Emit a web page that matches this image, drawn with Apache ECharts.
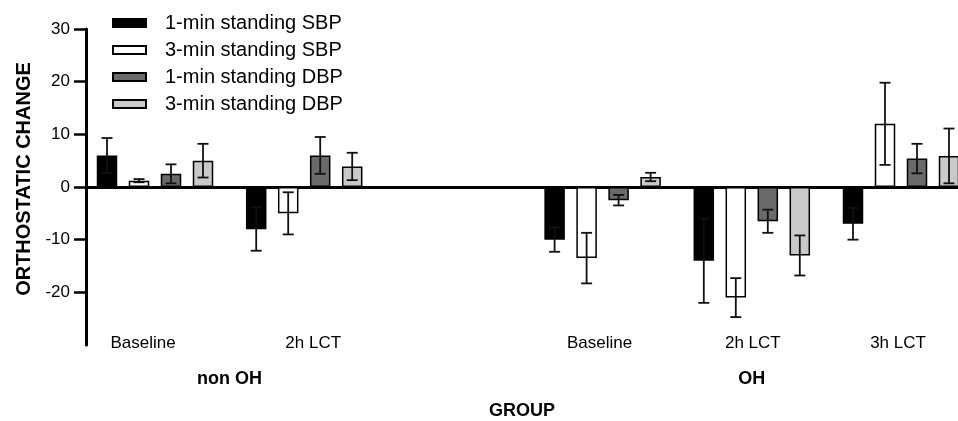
<!DOCTYPE html>
<html><head><meta charset="utf-8">
<script src="https://cdn.jsdelivr.net/npm/echarts@6/dist/echarts.min.js"></script>
<style>html,body{margin:0;padding:0;background:#fff}#c{width:958px;height:421px}</style>
</head><body><div id="c"></div>
<script>
// ---- data ----
const categories = ['Baseline', '2h LCT', '', 'Baseline', '2h LCT', '3h LCT'];
const groupNames = ['non OH', 'OH'];
const groupFirst = [0, 3];
const groupLast = [1, 5];
const yTicks = [-20, -10, 0, 10, 20, 30];
const seriesNames = ['1-min standing SBP', '3-min standing SBP', '1-min standing DBP', '3-min standing DBP'];
const sbp1 = [6, -8, null, -10, -14, -7];
const sbp1Err = [3.3, 4.1, null, 2.3, 8, 3];
const sbp3 = [1.2, -5, null, -13.5, -21, 12];
const sbp3Err = [0.3, 4, null, 4.8, 3.7, 7.8];
const dbp1 = [2.5, 6, null, -2.5, -6.5, 5.4];
const dbp1Err = [1.8, 3.5, null, 1, 2.2, 2.8];
const dbp3 = [5, 3.9, null, 1.9, -13, 5.9];
const dbp3Err = [3.2, 2.6, null, 0.8, 3.8, 5.2];

// ---- style ----
const FONT = 'Liberation Sans, Arial, Helvetica, sans-serif';
const fills = ['#000000', '#ffffff', '#6a6a6a', '#c9c9c9'];
const BAR_W = 20.5, BAR_GAP = 11.5;
// small horizontal nudges of the category labels (px, negative = left), as in the source layout
const labelNudge = [-12, 9, 0, -3, 1, -3];
const values = [sbp1, sbp3, dbp1, dbp3];
const errors = [sbp1Err, sbp3Err, dbp1Err, dbp3Err];

const halfSlots = [];
for (let j = 0; j < 2 * categories.length + 1; j++) halfSlots.push('');
groupNames.forEach((g, i) => { halfSlots[groupFirst[i] + groupLast[i] + 1] = g; });

const catData = categories.map((c, k) => {
  const n = labelNudge[k];
  return { value: c, textStyle: { padding: n < 0 ? [0, -2 * n, 0, 0] : [0, 0, 0, 2 * n] } };
});

const series = [];
values.forEach((v, i) => {
  series.push({
    type: 'bar', name: seriesNames[i], xAxisIndex: 0, yAxisIndex: 0,
    data: v, barWidth: BAR_W, barGap: (BAR_GAP / BAR_W * 100) + '%',
    itemStyle: { color: fills[i], borderColor: '#000', borderWidth: 1.5 },
    z: 2, animation: false
  });
});
values.forEach((v, i) => {
  const data = [];
  v.forEach((val, k) => { if (val != null) data.push([k, val, errors[i][k]]); });
  series.push({
    type: 'custom', xAxisIndex: 0, yAxisIndex: 0, z: 4, silent: true,
    encode: { x: 0, y: 1 }, data: data,
    renderItem: (params, api) => {
      const k = api.value(0), m = api.value(1), e = api.value(2);
      const total = 4 * BAR_W + 3 * BAR_GAP;
      const dx = -total / 2 + BAR_W / 2 + i * (BAR_W + BAR_GAP);
      const top = api.coord([k, m + e]);
      const bot = api.coord([k, m - e]);
      const x = top[0] + dx, cw = 5.5;
      const st = { stroke: '#111', lineWidth: 1.8 };
      return { type: 'group', children: [
        { type: 'line', shape: { x1: x, y1: top[1], x2: x, y2: bot[1] }, style: st },
        { type: 'line', shape: { x1: x - cw, y1: top[1], x2: x + cw, y2: top[1] }, style: st },
        { type: 'line', shape: { x1: x - cw, y1: bot[1], x2: x + cw, y2: bot[1] }, style: st }
      ]};
    }
  });
});

const chart = echarts.init(document.getElementById('c'));
chart.setOption({
  animation: false,
  backgroundColor: '#fff',
  textStyle: { fontFamily: FONT },
  legend: {
    data: seriesNames, orient: 'vertical', left: 112, top: 13, padding: 0,
    icon: 'rect', itemWidth: 33, itemHeight: 8, itemGap: 7, selectedMode: false,
    textStyle: { fontFamily: FONT, fontSize: 20, color: '#000', padding: [0, 0, 0, 14] }
  },
  grid: [
    { left: 80.4, width: 895.2, top: 29, height: 316, outerBoundsMode: 'none', containLabel: false },
    { left: 86, right: 0, top: 29, height: 316, outerBoundsMode: 'none', containLabel: false }
  ],
  xAxis: [
    { type: 'category', gridIndex: 0, data: catData, boundaryGap: true, position: 'bottom', offset: -14,
      axisLine: { show: false, onZero: false }, axisTick: { show: false }, splitLine: { show: false },
      axisLabel: { interval: 0, margin: 4, fontFamily: FONT, fontSize: 17, color: '#000' } },
    { type: 'category', gridIndex: 0, data: halfSlots, boundaryGap: false, position: 'bottom', offset: -14,
      axisLine: { show: false, onZero: false }, axisTick: { show: false }, splitLine: { show: false },
      axisLabel: { interval: 0, margin: 39, fontFamily: FONT, fontSize: 18, fontWeight: 'bold', color: '#000' } },
    { type: 'value', gridIndex: 1, min: 0, max: 1,
      axisLine: { show: true, onZero: true, lineStyle: { color: '#000', width: 3 } },
      axisTick: { show: false }, axisLabel: { show: false }, splitLine: { show: false },
      name: 'GROUP', nameLocation: 'middle', nameGap: 57,
      nameTextStyle: { fontFamily: FONT, fontSize: 18, fontWeight: 'bold', color: '#000' } }
  ],
  yAxis: [
    { type: 'value', gridIndex: 0, min: -30, max: 30, show: false, splitLine: { show: false } },
    { type: 'value', gridIndex: 1, min: -30, max: 30, interval: 10,
      axisLine: { show: true, lineStyle: { color: '#000', width: 3 } },
      axisTick: { show: true, length: 12, customValues: yTicks, lineStyle: { color: '#000', width: 2.5 } },
      axisLabel: { customValues: yTicks, margin: 16, fontFamily: FONT, fontSize: 17, color: '#000',
        formatter: v => (v === -30 ? '' : String(v)) },
      splitLine: { show: false },
      name: 'ORTHOSTATIC CHANGE', nameLocation: 'middle', nameRotate: 90, nameGap: 52,
      nameTextStyle: { fontFamily: FONT, fontSize: 20, fontWeight: 'bold', color: '#000', padding: [0, 0, 0, 16] } }
  ],
  series: series
});
</script></body></html>
